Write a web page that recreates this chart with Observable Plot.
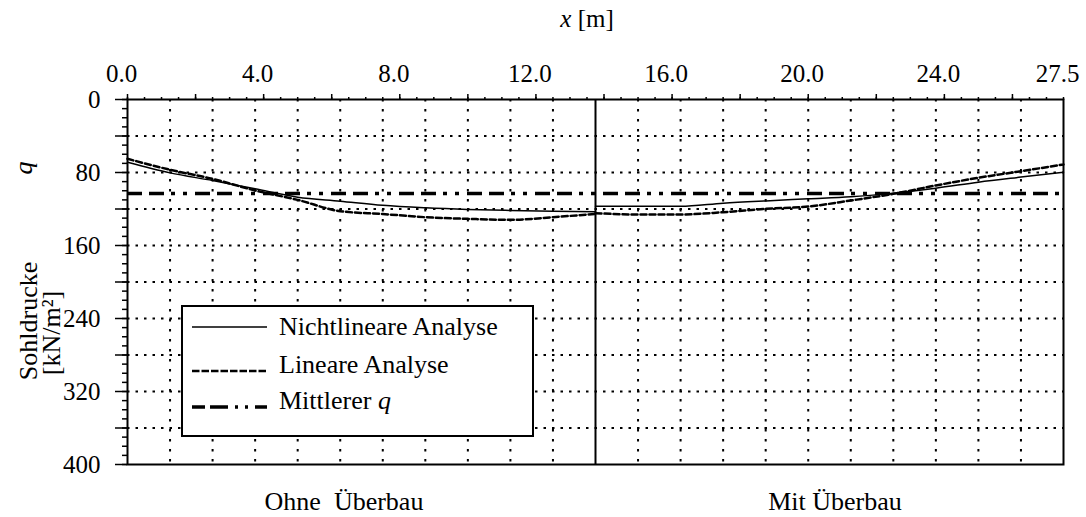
<!DOCTYPE html>
<html><head><meta charset="utf-8">
<script src="https://cdn.jsdelivr.net/npm/d3@7"></script>
<script src="https://cdn.jsdelivr.net/npm/@observablehq/plot@0.6"></script>
<style>html,body{margin:0;padding:0;background:#fff} svg{display:block}</style>
</head><body><div id="chart"></div>
<script>
// ---- data ----
const xLeft  = [0, 1.25, 2.5, 3.75, 5, 6.25, 7.5, 8.75, 10, 11.25, 12.5, 13.75];
const xRight = [13.75, 15, 16.25, 17.5, 18.75, 20, 21.25, 22.5, 23.75, 25, 26.25, 27.5];
const nonlinLeft  = [68.7, 80.4, 88.8, 97.9, 107, 111.4, 116, 118.7, 120.5, 121.6, 122.4, 123];
const linLeft     = [65, 77, 87, 99.7, 110, 122.4, 125.5, 129, 130.8, 131.9, 129, 125.3];
const nonlinRight = [117, 117, 117, 113.6, 111.1, 108.9, 106.7, 102.6, 97.2, 90.6, 85, 79.6];
const linRight    = [124.6, 126, 126, 123.5, 119.8, 117.3, 110.7, 103.4, 94.2, 85.8, 78.6, 71.2];
const meanQ = 103;
const divider = 13.75;
const sections = ["Ohne  Überbau", "Mit Überbau"];
const seriesNames = ["Nichtlineare Analyse", "Lineare Analyse", "Mittlerer q"];
const xDomain = [0, 27.5];
const yDomain = [0, 400];
const xLabelTicks = [0, 4, 8, 12, 16, 20, 24, 27.5];
const yLabelTicks = [0, 80, 160, 240, 320, 400];

// ---- derived ----
const FONT = "'Liberation Serif', 'Times New Roman', serif";
const rows = [];
xLeft.forEach((x, i) => {
  rows.push({x, q: nonlinLeft[i], s: seriesNames[0], part: sections[0]});
  rows.push({x, q: linLeft[i], s: seriesNames[1], part: sections[0]});
});
xRight.forEach((x, i) => {
  rows.push({x, q: nonlinRight[i], s: seriesNames[0], part: sections[1]});
  rows.push({x, q: linRight[i], s: seriesNames[1], part: sections[1]});
});
const minorX = d3.range(0, 27.5001, 0.5);
const majorX = d3.range(0, 27.5001, 2);
const gridX = d3.range(1, 22).map(k => k * 1.25).filter(v => v !== divider);
const minorY = d3.range(0, 400.001, 10);
const majorY = d3.range(0, 400.001, 40);
const gridY = d3.range(40, 400, 40);

const styles = {
  [seriesNames[0]]: {strokeWidth: 1.5, dash: null},
  [seriesNames[1]]: {strokeWidth: 2.5, dash: "6,3"},
  [seriesNames[2]]: {strokeWidth: 3.5, dash: "15,7,15,7,4,8,4,8"}
};

function annotations(index, scales, values, dims) {
  const {x, y} = scales;
  const g = d3.create("svg:g").attr("font-family", FONT).attr("fill", "black");
  const x0 = x(xDomain[0]), x1 = x(xDomain[1]);
  const yTop = y(yDomain[0]), yBot = y(yDomain[1]);
  // top title
  const t = g.append("text").attr("x", (x0 + x1) / 2 - 8).attr("y", yTop - 72)
    .attr("text-anchor", "middle").attr("font-size", 25);
  t.append("tspan").attr("font-style", "italic").text("x");
  t.append("tspan").text(" [m]");
  // section labels
  const xm0 = x((xDomain[0] + divider) / 2) - 17;
  const xm1 = x((divider + xDomain[1]) / 2) + 6;
  g.append("text").attr("x", xm0).attr("y", yBot + 46).attr("text-anchor", "middle")
    .attr("font-size", 26).style("white-space", "pre").text(sections[0]);
  g.append("text").attr("x", xm1).attr("y", yBot + 46).attr("text-anchor", "middle")
    .attr("font-size", 26).text(sections[1]);
  // y titles
  const cy = yTop + 222;
  g.append("text").attr("transform", `translate(37,${cy}) rotate(-90)`).attr("text-anchor", "middle")
    .attr("font-size", 26).text("Sohldrucke");
  g.append("text").attr("transform", `translate(60,${cy + 12}) rotate(-90)`).attr("text-anchor", "middle")
    .attr("font-size", 26).text("[kN/m²]");
  g.append("text").attr("transform", `translate(32,${y(80) - 4}) rotate(-90)`).attr("text-anchor", "middle")
    .attr("font-size", 26).attr("font-style", "italic").text("q");
  // legend
  const lx = x0 + 55, ly = yTop + 207;
  g.append("rect").attr("x", lx).attr("y", ly).attr("width", 351).attr("height", 130)
    .attr("fill", "white").attr("stroke", "black").attr("stroke-width", 2);
  const rowY = [21, 65, 101];
  const baseY = [29, 67, 103];
  seriesNames.forEach((name, i) => {
    const st = styles[name];
    const ln = g.append("line").attr("x1", lx + 10).attr("x2", lx + 85)
      .attr("y1", ly + rowY[i]).attr("y2", ly + rowY[i])
      .attr("stroke", "black").attr("stroke-width", st.strokeWidth);
    if (st.dash) ln.attr("stroke-dasharray", i === 2 ? "13,5,18,7,3,7,3,7" : "7.5,2");
    const tx = g.append("text").attr("x", lx + 97).attr("y", ly + baseY[i])
      .attr("text-anchor", "start").attr("font-size", 26);
    if (i === 2) {
      tx.append("tspan").text("Mittlerer ");
      tx.append("tspan").attr("font-style", "italic").text("q");
    } else tx.text(name);
  });
  return g.node();
}

const plot = Plot.plot({
  width: 1086,
  height: 517,
  marginLeft: 127,
  marginRight: 23,
  marginTop: 99,
  marginBottom: 53,
  style: {fontFamily: FONT, fontSize: "25px", color: "black", background: "white"},
  x: {domain: xDomain, axis: null},
  y: {domain: yDomain, reverse: true, axis: null},
  marks: [
    Plot.ruleY(gridY, {stroke: "black", strokeWidth: 2, strokeDasharray: "2.5,6"}),
    Plot.ruleX(gridX, {stroke: "black", strokeWidth: 2, strokeDasharray: "2.5,7.5"}),
    Plot.ruleX([divider], {stroke: "black", strokeWidth: 2}),
    Plot.ruleY([meanQ], {stroke: "black", strokeWidth: styles[seriesNames[2]].strokeWidth,
      strokeDasharray: styles[seriesNames[2]].dash}),
    Plot.line(rows.filter(d => d.s === seriesNames[1]), {x: "x", y: "q", z: "part", stroke: "black",
      strokeWidth: styles[seriesNames[1]].strokeWidth, strokeDasharray: styles[seriesNames[1]].dash, curve: "monotone-x"}),
    Plot.line(rows.filter(d => d.s === seriesNames[0]), {x: "x", y: "q", z: "part", stroke: "black",
      strokeWidth: styles[seriesNames[0]].strokeWidth, curve: "monotone-x"}),
    Plot.axisX({anchor: "top", ticks: minorX, tickSize: 3, tickFormat: () => "", label: null, strokeWidth: 1.5}),
    Plot.axisX({anchor: "top", ticks: majorX, tickSize: 6, tickFormat: () => "", label: null, strokeWidth: 1.5}),
    Plot.axisX({anchor: "top", ticks: xLabelTicks, tickSize: 0, tickPadding: 18, label: null,
      tickFormat: d => d.toFixed(1), dx: -6, fontSize: 25}),
    Plot.axisY({anchor: "left", ticks: minorY, tickSize: 5, tickFormat: () => "", label: null, strokeWidth: 1.5}),
    Plot.axisY({anchor: "left", ticks: majorY, tickSize: 12, tickFormat: () => "", label: null, strokeWidth: 1.5}),
    Plot.axisY({anchor: "left", ticks: yLabelTicks, tickSize: 0, tickPadding: 27, label: null,
      tickFormat: d => String(d), fontSize: 25}),
    Plot.frame({stroke: "black", strokeWidth: 2}),
    annotations
  ]
});
document.getElementById("chart").appendChild(plot);
</script>
</body></html>
